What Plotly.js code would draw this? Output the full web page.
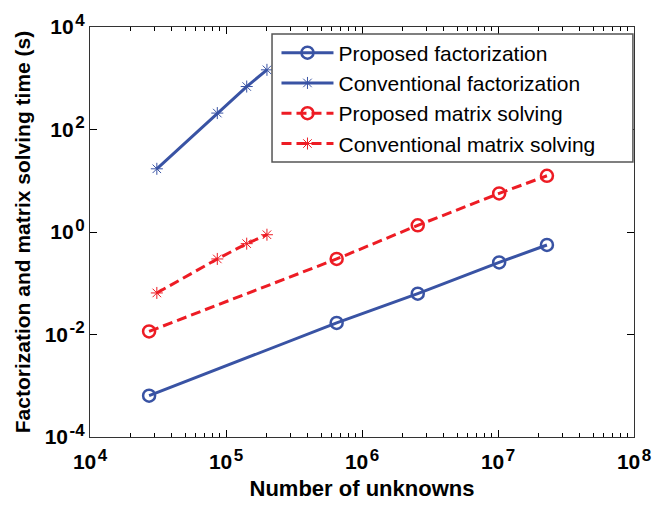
<!DOCTYPE html>
<html><head><meta charset="utf-8">
<script src="https://cdn.plot.ly/plotly-3.0.1.min.js"></script>
<style>html,body{margin:0;padding:0;background:#fff;}#chart{width:672px;height:506px;}</style>
</head><body><div id="chart"></div>
<script>
// Data
const propN = [27200, 651000, 2570000, 10200000, 22900000];
const propFactTime = [0.00064, 0.0168, 0.0627, 0.255, 0.558];
const propSolveTime = [0.0115, 0.298, 1.35, 5.65, 12.5];
const convN = [31000, 86300, 142000, 200000];
const convFactTime = [17.1, 209, 689, 1459];
const convSolveTime = [0.0647, 0.298, 0.592, 0.885];
const seriesNames = ["Proposed factorization", "Conventional factorization", "Proposed matrix solving", "Conventional matrix solving"];
const xTickVals = [1e4, 1e5, 1e6, 1e7, 1e8];
const xTickExp = ["4", "5", "6", "7", "8"];
const yTickVals = [1e-4, 1e-2, 1, 1e2, 1e4];
const yTickExp = ["-4", "-2", "0", "2", "4"];

const powLabel = e => "10<sup><span style='font-size:17px'>&#8202;" + e + "</span></sup>";
const xTickText = xTickExp.map(powLabel);
const yTickText = yTickExp.map(powLabel);

const blue = "rgb(57,83,164)";
const red = "rgb(237,28,36)";

const traces = [
  {x: propN, y: propFactTime, name: seriesNames[0], legendgroup: "a", mode: "lines+markers",
   line: {color: blue, width: 3}, marker: {symbol: "circle-open", size: 12, color: blue, line: {width: 2.5, color: blue}}},
  {x: convN, y: convFactTime, name: seriesNames[1], legendgroup: "b", mode: "lines+markers",
   line: {color: blue, width: 3}, marker: {symbol: "asterisk-open", size: 10, color: blue, line: {width: 1, color: "rgb(120,140,200)"}}},
  {x: propN, y: propSolveTime, name: seriesNames[2], legendgroup: "c", mode: "lines+markers",
   line: {color: red, width: 3, dash: "10px,5px"}, marker: {symbol: "circle-open", size: 12, color: red, line: {width: 2.5, color: red}}},
  {x: convN, y: convSolveTime, name: seriesNames[3], legendgroup: "d", mode: "lines+markers",
   line: {color: red, width: 3, dash: "10px,5px"}, marker: {symbol: "asterisk-open", size: 10, color: red, line: {width: 1, color: "rgb(245,120,120)"}}}
];

const fam = "Liberation Sans, Arial, sans-serif";
const tickFont = {family: fam, size: 21, color: "#000", weight: "bold"};

const layout = {
  width: 672, height: 506,
  margin: {l: 90, r: 38, t: 27, b: 68.5},
  paper_bgcolor: "#fff", plot_bgcolor: "#fff",
  showlegend: true,
  xaxis: {
    type: "log", range: [4, 8], autorange: false,
    tickvals: xTickVals, ticktext: xTickText, tickfont: tickFont,
    ticks: "inside", ticklen: 7, tickwidth: 1, tickcolor: "#000",
    ticklabelstandoff: 6,
    showline: true, linecolor: "#333", linewidth: 1.2, mirror: "allticks",
    showgrid: false, zeroline: false,
    minor: {ticks: "inside", ticklen: 4, tickwidth: 1, tickcolor: "#000", dtick: "D1", showgrid: false},
    title: {text: "Number of unknowns", font: {family: fam, size: 22, color: "#000", weight: "bold"}, standoff: 8},
    automargin: false
  },
  yaxis: {
    type: "log", range: [-4, 4], autorange: false,
    tickvals: yTickVals, ticktext: yTickText, tickfont: tickFont,
    ticks: "inside", ticklen: 7, tickwidth: 1, tickcolor: "#000",
    showline: true, linecolor: "#333", linewidth: 1.2, mirror: "allticks",
    showgrid: false, zeroline: false,
    title: {text: "Factorization and matrix solving time (s)", font: {family: fam, size: 21, color: "#000", weight: "bold"}, standoff: 8},
    automargin: false
  },
  shapes: [
    {type: "rect", xref: "paper", yref: "paper", x0: 0.3346, x1: 0.998, y0: 0.671, y1: 0.983,
     line: {color: "#555", width: 1.5}, fillcolor: "#fff", layer: "above"}
  ],
  legend: {
    x: 0.3428, y: 0.9866, xanchor: "left", yanchor: "top",
    bgcolor: "rgba(0,0,0,0)", borderwidth: 0,
    font: {family: fam, size: 21, color: "#000"},
    itemwidth: 52,
    traceorder: "grouped", tracegroupgap: 0
  }
};

Plotly.newPlot("chart", traces, layout, {displayModeBar: false, staticPlot: true});
</script>
</body></html>
